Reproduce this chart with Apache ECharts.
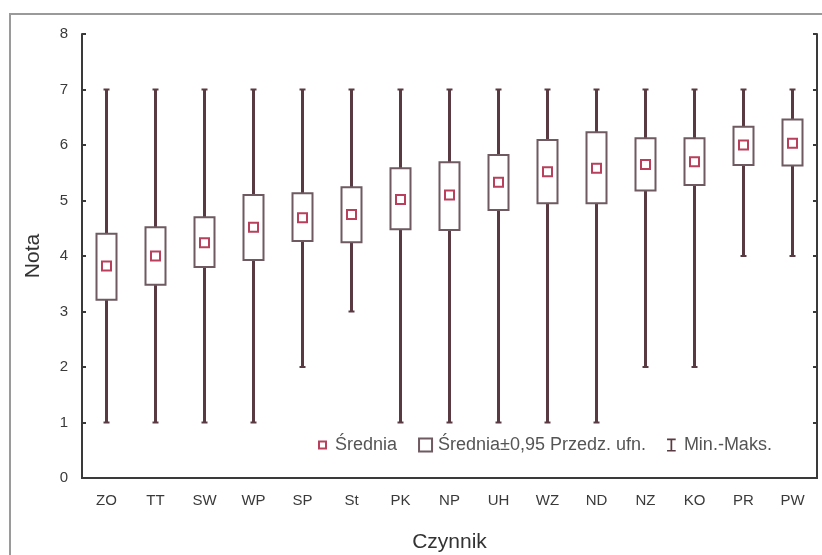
<!DOCTYPE html>
<html>
<head>
<meta charset="utf-8">
<script src="https://cdn.jsdelivr.net/npm/echarts@6/dist/echarts.min.js"></script>
<style>
  html, body { margin: 0; padding: 0; background: #fff; }
  #chart { width: 822px; height: 555px; }
</style>
</head>
<body>
<div id="chart"></div>
<script>
// factors (x axis)
var factors = ['ZO', 'TT', 'SW', 'WP', 'SP', 'St', 'PK', 'NP', 'UH', 'WZ', 'ND', 'NZ', 'KO', 'PR', 'PW'];
// mean score
var means = [3.82, 4.0, 4.24, 4.52, 4.69, 4.75, 5.02, 5.1, 5.33, 5.52, 5.58, 5.65, 5.7, 6.0, 6.03];
// mean +/- 0.95 confidence interval
var ciLow = [3.21, 3.48, 3.8, 3.93, 4.27, 4.25, 4.48, 4.47, 4.83, 4.95, 4.95, 5.18, 5.28, 5.64, 5.63];
var ciHigh = [4.4, 4.52, 4.7, 5.1, 5.13, 5.24, 5.58, 5.69, 5.82, 6.09, 6.23, 6.12, 6.12, 6.33, 6.46];
// min / max
var mins = [1, 1, 1, 1, 2, 3, 1, 1, 1, 1, 1, 2, 2, 4, 4];
var maxs = [7, 7, 7, 7, 7, 7, 7, 7, 7, 7, 7, 7, 7, 7, 7];

var whiskerColor = '#5a3a42';
var boxColor = '#6e5a60';
var meanColor = '#b8405c';
var axisColor = '#3a3a3a';

var whiskerData = factors.map(function(f, i) { return [i, mins[i], maxs[i]]; });
var boxData = factors.map(function(f, i) { return [i, ciLow[i], ciHigh[i]]; });
var meanData = factors.map(function(f, i) { return [i, means[i]]; });

var renderWhisker = function(params, api) {
    var lo = api.coord([api.value(0), api.value(1)]);
    var hi = api.coord([api.value(0), api.value(2)]);
    return {
        type: 'group',
        children: [
            { type: 'line', shape: { x1: lo[0], y1: lo[1], x2: hi[0], y2: hi[1] }, style: { stroke: whiskerColor, lineWidth: 3 } },
            { type: 'line', shape: { x1: lo[0] - 3, y1: lo[1], x2: lo[0] + 3, y2: lo[1] }, style: { stroke: whiskerColor, lineWidth: 2 } },
            { type: 'line', shape: { x1: hi[0] - 3, y1: hi[1], x2: hi[0] + 3, y2: hi[1] }, style: { stroke: whiskerColor, lineWidth: 2 } }
        ]
    };
};

var renderBox = function(params, api) {
    var lo = api.coord([api.value(0), api.value(1)]);
    var hi = api.coord([api.value(0), api.value(2)]);
    var w = 20;
    return {
        type: 'rect',
        shape: { x: lo[0] - w / 2, y: hi[1], width: w, height: lo[1] - hi[1] },
        style: { fill: '#fff', stroke: boxColor, lineWidth: 2 }
    };
};

var chart = echarts.init(document.getElementById('chart'));

chart.setOption({
    animation: false,
    backgroundColor: '#fff',
    textStyle: { fontFamily: 'Liberation Sans, Arial, sans-serif' },
    graphic: [
        { type: 'rect', shape: { x: 10, y: 14, width: 830, height: 560 }, style: { fill: 'none', stroke: '#9a9a9a', lineWidth: 2 }, z: -1 }
    ],
    grid: { left: 82, top: 34, right: 5, bottom: 77, outerBoundsMode: 'none', containLabel: false },
    legend: {
        left: 310,
        top: 431,
        itemWidth: 13,
        itemHeight: 13,
        itemGap: 21,
        textStyle: { fontSize: 18, color: '#555', padding: [0, 0, 0, 1] },
        data: [
            { name: 'Średnia', icon: 'path://M0,0L0,0M13,13L13,13M3,3h7v7h-7z', itemStyle: { color: '#fff', borderColor: meanColor, borderWidth: 2 } },
            { name: 'Średnia±0,95 Przedz. ufn.', icon: 'rect', itemStyle: { color: '#fff', borderColor: boxColor, borderWidth: 2 } },
            { name: 'Min.-Maks.', icon: 'path://M0,0h8v1.5h-3.2v9h3.2v1.5h-8v-1.5h3.2v-9h-3.2z', itemStyle: { color: whiskerColor } }
        ]
    },
    xAxis: [
        {
            type: 'category',
            data: factors,
            name: 'Czynnik',
            nameLocation: 'middle',
            nameGap: 54,
            nameTextStyle: { fontSize: 21, color: '#333' },
            axisLine: { lineStyle: { color: axisColor, width: 2 } },
            axisTick: { inside: true, alignWithLabel: true, length: 4, lineStyle: { color: axisColor, width: 2 } },
            axisLabel: { fontSize: 15, color: '#3a3a3a', margin: 15 },
            splitLine: { show: false }
        },
        {
            type: 'category',
            data: factors,
            position: 'top',
            axisLine: { lineStyle: { color: axisColor, width: 2 } },
            axisTick: { inside: true, alignWithLabel: true, length: 4, lineStyle: { color: axisColor, width: 2 } },
            axisLabel: { show: false }
        }
    ],
    yAxis: [
        {
            type: 'value',
            min: 0,
            max: 8,
            interval: 1,
            name: 'Nota',
            nameLocation: 'middle',
            nameGap: 38,
            nameTextStyle: { fontSize: 21, color: '#333' },
            axisLine: { show: true, lineStyle: { color: axisColor, width: 2 } },
            axisTick: { show: true, inside: true, length: 4, lineStyle: { color: axisColor, width: 2 } },
            axisLabel: { fontSize: 15, color: '#3a3a3a', margin: 14 },
            splitLine: { show: false }
        },
        {
            type: 'value',
            min: 0,
            max: 8,
            interval: 1,
            position: 'right',
            axisLine: { show: true, lineStyle: { color: axisColor, width: 2 } },
            axisTick: { show: true, inside: true, length: 4, lineStyle: { color: axisColor, width: 2 } },
            axisLabel: { show: false },
            splitLine: { show: false }
        }
    ],
    series: [
        {
            name: 'Min.-Maks.',
            type: 'custom',
            renderItem: renderWhisker,
            encode: { x: 0, y: [1, 2] },
            data: whiskerData,
            z: 2
        },
        {
            name: 'Średnia±0,95 Przedz. ufn.',
            type: 'custom',
            renderItem: renderBox,
            encode: { x: 0, y: [1, 2] },
            data: boxData,
            z: 3
        },
        {
            name: 'Średnia',
            type: 'scatter',
            symbol: 'rect',
            symbolSize: 9,
            itemStyle: { color: '#fff', borderColor: meanColor, borderWidth: 2, opacity: 1 },
            data: meanData,
            z: 4
        }
    ]
});
</script>
</body>
</html>
